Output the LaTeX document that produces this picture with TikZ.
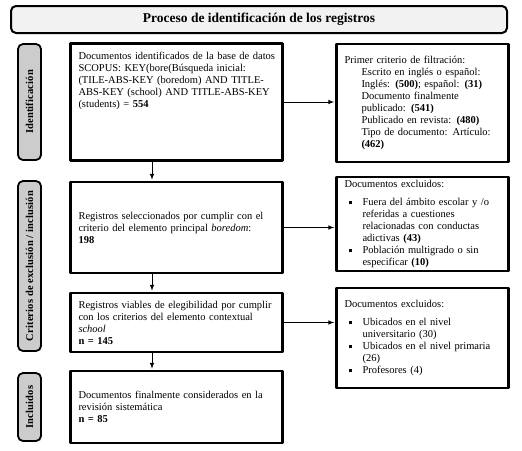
\documentclass[tikz,border=0pt]{standalone}
\usepackage{fontspec}
\setmainfont{Liberation Serif}
\newcommand{\sqitem}{\hspace*{4pt}\makebox[14pt][l]{\rule[2pt]{3pt}{3pt}}}
\newcommand{\hangline}{\hspace*{18pt}}
\newcommand{\subline}{\hspace*{17pt}}
\begin{document}
\begin{tikzpicture}[x=1pt,y=-1pt,>=latex,line join=round,
 font=\fontsize{10.5}{12}\selectfont,
 mainbox/.style={draw,line width=2.6pt,minimum width=212pt,text width=196pt,
  align=left,inner xsep=8pt},
 sidebox/.style={draw,line width=2.6pt,minimum width=172pt,text width=156pt,
  align=left,inner xsep=8pt},
 phase/.style={draw,line width=1.8pt,rounded corners=5pt,fill=gray!40,rotate=90,
  minimum height=23pt,font=\fontsize{10.5}{12}\selectfont\bfseries\addfontfeature{LetterSpace=1.5}},
 arr/.style={->,line width=1pt,shorten >=1pt}]
 \useasboundingbox (0,0) rectangle (522,450);
 \node[draw,line width=2pt,rounded corners=5pt,fill=gray!10,minimum width=496pt,
  minimum height=27pt,font=\fontsize{13.5}{16}\selectfont\bfseries]
  (title) at (259,19.5) {Proceso de identificación de los registros};
 \node[phase,minimum width=116pt] (ident) at (29.5,102) {Identificación};
 \node[phase,minimum width=170pt] (crit) at (29.5,266) {Criterios de exclusión / inclusión};
 \node[phase,minimum width=68pt] (incl) at (29.5,407) {Incluidos};
 \node[mainbox,minimum height=117pt] (found) at (176.5,102) {\mbox{Documentos identificados de la base de datos}\\
  SCOPUS: KEY(bore(Búsqueda inicial:\\
  (TILE-ABS-KEY (boredom) AND TITLE-\\
  ABS-KEY (school) AND TITLE-ABS-KEY\\
  (students) = \textbf{554}\par\vspace{32pt}\null};
 \node[mainbox,minimum height=91pt] (sel) at (176.5,227.5) {Registros seleccionados por cumplir con el\\
  criterio del elemento principal \textit{boredom}:\\
  \textbf{198}};
 \node[mainbox,minimum height=59pt] (viable) at (176.5,322.5) {Registros viables de elegibilidad por cumplir\\
  con los criterios del elemento contextual\\
  \textit{school}\\
  \textbf{n = 145}};
 \node[mainbox,minimum height=72pt] (final) at (176.5,407) {Documentos finalmente considerados en la\\
  revisión sistemática\\
  \textbf{n = 85}};
 \node[sidebox,minimum height=118pt] (filter) at (422.5,103) {Primer criterio de filtración:\\
  \subline Escrito en inglés o español:\\
  \subline Inglés: \textbf{(500)}; español: \textbf{(31)}\\
  \subline Documento finalmente\\
  \subline publicado: \textbf{(541)}\\
  \subline Publicado en revista: \textbf{(480)}\\
  \subline Tipo de documento: Artículo:\\
  \subline\textbf{(462)}};
 \node[sidebox,minimum height=90pt] (excl1) at (422.5,224) {Documentos excluidos:\\[6pt]
  \sqitem Fuera del ámbito escolar y /o\\
  \hangline referidas a cuestiones\\
  \hangline relacionadas con conductas\\
  \hangline adictivas \textbf{(43)}\\
  \sqitem Población multigrado o sin\\
  \hangline especificar \textbf{(10)}};
 \node[sidebox,minimum height=100pt] (excl2) at (422.5,338) {Documentos excluidos:\\[6pt]
  \sqitem Ubicados en el nivel\\
  \hangline universitario (30)\\
  \sqitem Ubicados en el nivel primaria\\
  \hangline (26)\\
  \sqitem Profesores (4)};
 \coordinate (spine) at (152,0);
 \draw[arr] (found.south -| spine) -- (sel.north -| spine);
 \draw[arr] (sel.south -| spine) -- (viable.north -| spine);
 \draw[arr] (viable.south -| spine) -- (final.north -| spine);
 \draw[arr] (found.east) -- (found.east -| filter.west);
 \draw[arr] (sel.east) -- (sel.east -| excl1.west);
 \draw[arr] (viable.east) -- (viable.east -| excl2.west);
\end{tikzpicture}
\end{document}
